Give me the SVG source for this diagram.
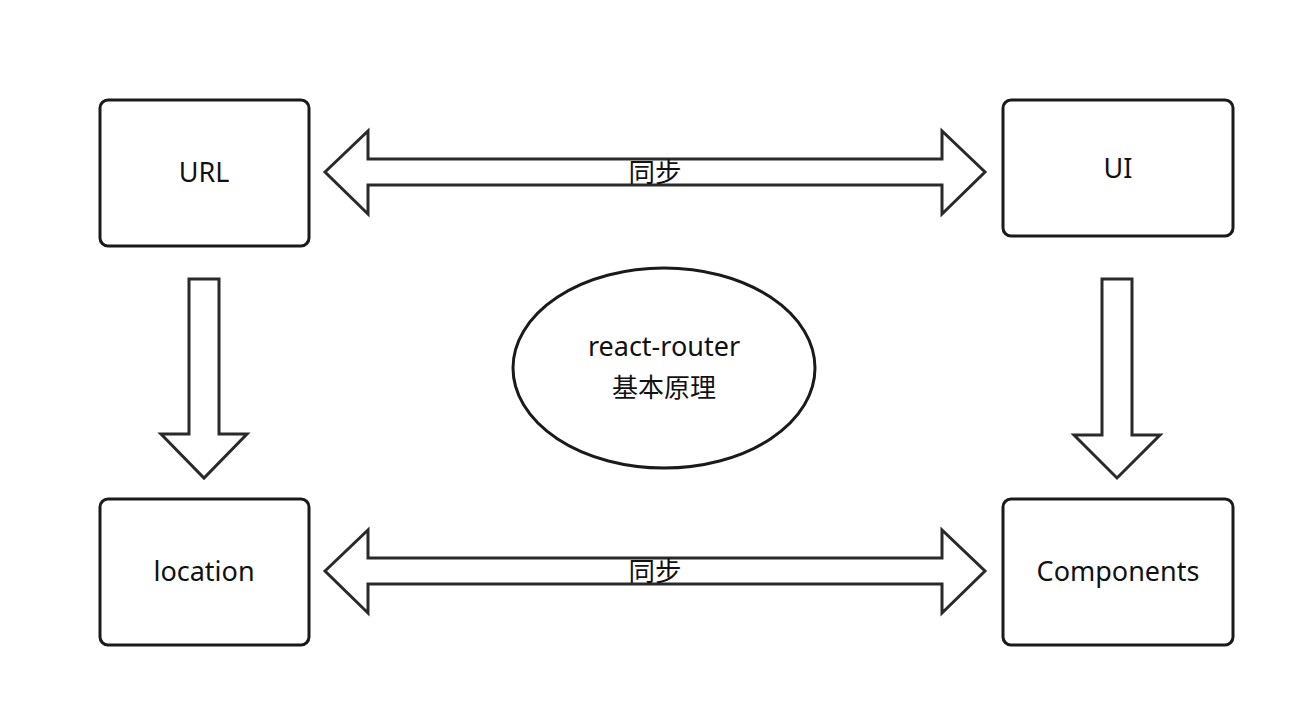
<svg xmlns="http://www.w3.org/2000/svg" width="1300" height="712" viewBox="0 0 1300 712">
<style>
.box{fill:#fff;stroke:#1a1a1a;stroke-width:3}
.arr{fill:#fff;stroke:#2a2a2a;stroke-width:3;stroke-linejoin:miter}
.t{font-family:"Noto Sans","Open Sans","Noto Sans CJK SC",sans-serif;font-size:27px;fill:#111;text-anchor:middle}
.cjk{font-family:"Noto Sans CJK SC",sans-serif;font-size:26px;fill:#111;text-anchor:middle}
.lbl{font-family:"Noto Sans CJK SC",sans-serif;font-size:26.5px;fill:#111;text-anchor:middle}
</style>
<rect width="1300" height="712" fill="#fff"/>
<g id="connectors">
<polygon class="arr" points="325,172 368,131 368,159 942,159 942,131 985,172 942,214 942,185 368,185 368,214"/>
<polygon class="arr" points="325,571 368,530 368,558 942,558 942,530 985,571 942,613 942,584 368,584 368,613"/>
<polygon class="arr" points="189,279 219,279 219,434 247,434 204,478 161,434 189,434"/>
<polygon class="arr" points="1102,279 1132,279 1132,435 1160,435 1117,478 1074,435 1102,435"/>
<text class="lbl" x="655" y="182">同步</text>
<text class="lbl" x="655" y="581">同步</text>
</g>
<g id="url">
<rect class="box" x="100" y="100" width="209" height="146" rx="8"/>
<text class="t" x="204" y="182">URL</text>
</g>
<g id="ui">
<rect class="box" x="1003" y="100" width="230" height="136" rx="8"/>
<text class="t" x="1118" y="178">UI</text>
</g>
<g id="location">
<rect class="box" x="100" y="499" width="209" height="146" rx="8"/>
<text class="t" x="204" y="581">location</text>
</g>
<g id="components">
<rect class="box" x="1003" y="499" width="230" height="146" rx="8"/>
<text class="t" x="1118" y="581">Components</text>
</g>
<g id="center">
<ellipse class="box" cx="664" cy="368" rx="151" ry="100"/>
<text class="t" x="664" y="356">react-router</text>
<text class="cjk" x="664" y="397">基本原理</text>
</g>
</svg>
